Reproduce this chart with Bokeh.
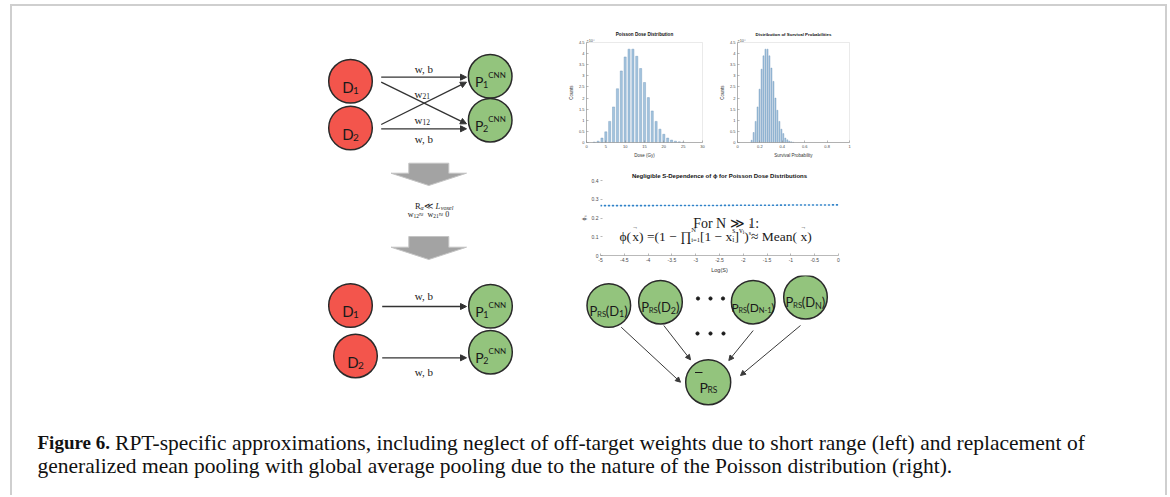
from bokeh.plotting import figure
from bokeh.layouts import row, column
from bokeh.models import Range1d, Arrow, NormalHead, FixedTicker, Title
from bokeh.core.properties import value
from bokeh.embed import file_html
from bokeh.resources import INLINE

# ---------------- chart data ----------------
dose_gy = [2, 3, 4, 5, 6, 7, 8, 9, 10, 11, 12, 13, 14, 15, 16, 17, 18, 19, 20, 21, 22, 23, 24, 25]
dose_counts_1e4 = [0.02, 0.06, 0.2, 0.48, 0.95, 1.6, 2.42, 3.22, 3.85, 4.2, 4.2, 3.88, 3.33, 2.7,
                   2.02, 1.42, 0.95, 0.6, 0.37, 0.2, 0.11, 0.06, 0.03, 0.015]

surv_prob = [0.126, 0.144, 0.162, 0.179, 0.197, 0.215, 0.232, 0.250, 0.268, 0.285, 0.303,
             0.321, 0.339, 0.356, 0.374, 0.392, 0.409, 0.427, 0.445, 0.462, 0.480, 0.498]
surv_counts_1e4 = [0.1, 0.45, 0.95, 1.6, 2.4, 3.3, 3.9, 4.2, 4.2, 3.9, 3.35, 2.75, 2.0, 1.45,
                   0.95, 0.6, 0.4, 0.2, 0.12, 0.06, 0.03, 0.01]

log_s = [-5, -4.5, -4, -3.5, -3, -2.5, -2, -1.5, -1, -0.5, 0]
phi_s = [0.266, 0.266, 0.266, 0.267, 0.267, 0.267, 0.268, 0.268, 0.269, 0.269, 0.27]

dose_ticks = [0, 5, 10, 15, 20, 25, 30]
dose_tick_labels = ["0", "5", "10", "15", "20", "25", "30"]
count_ticks = [0, 0.5, 1, 1.5, 2, 2.5, 3, 3.5, 4, 4.5]
count_tick_labels = ["0", "0.5", "1", "1.5", "2", "2.5", "3", "3.5", "4", "4.5"]
prob_ticks = [0, 0.2, 0.4, 0.6, 0.8, 1]
prob_tick_labels = ["0", "0.2", "0.4", "0.6", "0.8", "1"]
logs_ticks = [-5, -4.5, -4, -3.5, -3, -2.5, -2, -1.5, -1, -0.5, 0]
logs_tick_labels = ["-5", "-4.5", "-4", "-3.5", "-3", "-2.5", "-2", "-1.5", "-1", "-0.5", "0"]
phi_ticks = [0, 0.1, 0.2, 0.3, 0.4]
phi_tick_labels = ["0", "0.1", "0.2", "0.3", "0.4"]

caption_bold = "Figure 6."
caption_line1 = ("RPT-specific approximations, including neglect of off-target weights due to "
                 "short range (left) and replacement of")
caption_line2 = ("generalized mean pooling with global average pooling due to the nature of the "
                 "Poisson distribution (right).")

# ---------------- styles ----------------
SANS = "Lato"
SERIF = "Liberation Serif"
MSANS = "Liberation Sans"
RED = "#F3554C"
GREEN = "#93C47D"
EDGE = "#2a2a2a"
INK = "#1a1a1a"
BAR_FILL = "#a4c4de"
BAR_LINE = "#6a93b8"
AX = "#8a8a8a"

SANS_W = {'P': .58, 'R': .6, 'S': .52, 'D': .72, 'C': .67, 'N': .74, '(': .3, ')': .3,
          '-': .36, '1': .58, '2': .58, '0': .58}
SERIF_W = {'ϕ': .62, '(': .333, ')': .333, 'x': .5, ' ': .25, '=': .564, '1': .5,
           '−': .564, '∏': .82, 'N': .722, 'i': .278, '[': .333, ']': .333, 's': .389,
           'v': .5, '≈': .549, 'M': .889, 'e': .444, 'a': .444, 'n': .5, 'F': .556, 'o': .5,
           'r': .333, '≫': .84, '≪': .84, ':': .278, 'w': .722, ',': .25, 'b': .5, '2': .5,
           'R': .667, 'α': .6, 'L': .611, 'l': .278, '0': .5, '→': 0}
BOLD_W = {'F': .611, 'i': .278, 'g': .5, 'u': .556, 'r': .444, 'e': .444, ' ': .25, '6': .5,
          '.': .25}


def tw(s, size, table):
    return sum(table.get(c, .5) for c in s) * size


def txt(p, x, y, s, size, font=SANS, align="left", baseline="alphabetic", style="normal",
        color=INK):
    p.text(x=[x], y=[y], text=[s], text_font=value(font), text_font_size=f"{size}px",
           text_align=align, text_baseline=baseline, text_font_style=style, text_color=color)


def flow(p, x, y, pieces, font, table, conv=None, center=False, color=INK):
    """pieces: (text, size, dy, style, advance)"""
    if center:
        total = sum(tw(s, sz, table) for s, sz, dy, st, adv in pieces if adv)
        x = x - total / 2
    for s, sz, dy, st, adv in pieces:
        X, Y = x, y + dy
        if conv:
            X, Y = conv(X, Y)
        txt(p, X, Y, s, sz, font, style=st, color=color)
        if adv:
            x += tw(s, sz, table)
    return x


def canvas(w, h, x0, y0):
    p = figure(width=w, height=h, x_range=Range1d(x0, x0 + w), y_range=Range1d(y0 + h, y0),
               output_backend="svg", toolbar_location=None, min_border=0,
               x_axis_location=None, y_axis_location=None)
    p.grid.visible = False
    p.outline_line_color = None
    return p


def arrow(p, x0, y0, x1, y1, size=6, lw=1.3, color="#333333"):
    p.add_layout(Arrow(end=NormalHead(size=size, fill_color=color, line_color=color, line_width=1),
                       x_start=x0, y_start=y0, x_end=x1, y_end=y1,
                       line_color=color, line_width=lw))


def node(p, cx, cy, r, fill):
    p.circle(x=[cx], y=[cy], radius=r, fill_color=fill, line_color=EDGE, line_width=1.5)


def d_label(p, cx, cy, idx):
    flow(p, cx, cy + 5.5, [("D", 15, 0, "normal", True), (idx, 10, 3.5, "normal", True)],
         SANS, SANS_W, center=True)


def p_label(p, cx, cy, idx):
    flow(p, cx, cy + 5, [("P", 14, 0, "normal", True), (idx, 9, 3.5, "normal", True),
                         ("CNN", 8, -6.5, "normal", True)], SANS, SANS_W, center=True)


def style_axes(p, font_px, box=True):
    for ax in p.axis:
        ax.axis_line_color = AX
        ax.axis_line_width = 0.6
        ax.major_tick_line_color = AX
        ax.major_tick_line_width = 0.6
        ax.major_tick_in = 2
        ax.major_tick_out = 0
        ax.minor_tick_line_color = None
        ax.major_label_text_font = MSANS
        ax.major_label_text_font_size = f"{font_px}px"
        ax.major_label_text_color = "#4a4a4a"
        ax.major_label_standoff = 2
        ax.axis_label_text_font = MSANS
        ax.axis_label_text_font_style = "normal"
        ax.axis_label_text_font_size = f"{font_px + 0.5}px"
        ax.axis_label_text_color = "#333333"
        ax.axis_label_standoff = 2
    p.grid.visible = False
    p.outline_line_color = "#dcdcdc" if box else None
    p.outline_line_width = 0.6


def chart_titles(p, title, size, standoff, exp_label=None):
    if exp_label:
        p.add_layout(Title(text=exp_label, align="left", text_font=MSANS,
                           text_font_size="3.8px", text_font_style="normal",
                           text_color="#4a4a4a", standoff=0), "above")
    p.title.text = title
    p.title.align = "center"
    p.title.text_font = MSANS
    p.title.text_font_size = f"{size}px"
    p.title.text_font_style = "bold"
    p.title.text_color = "#111111"
    p.title.standoff = standoff


# ---------------- top-left diagram (canvas in page pixel coordinates) ----------------
tl = canvas(548, 269, 12, 6)

top_nodes = {"D1": (350, 80.8), "D2": (350, 127.5), "P1": (489.7, 75.8), "P2": (489.7, 119.7)}
NR = 21.8

for key, (cx, cy) in top_nodes.items():
    node(tl, cx, cy, NR, RED if key[0] == "D" else GREEN)
    if key[0] == "D":
        d_label(tl, cx, cy, key[1])
    else:
        p_label(tl, cx, cy, key[1])

for (x0, y0, x1, y1) in [(380.7, 76.7, 466, 76.7), (380.7, 81.7, 466, 123.3),
                         (380.7, 124, 466, 81.7), (380.7, 128.3, 466, 128.3)]:
    arrow(tl, x0, y0, x1, y1)

txt(tl, 423.3, 68.3, "w, b", 11, SERIF, align="center", baseline="middle")
flow(tl, 421.7, 93, [("w", 11, 0, "normal", True), ("21", 7.5, 2.5, "normal", True)],
     SERIF, SERIF_W, center=True)
flow(tl, 421.7, 119, [("w", 11, 0, "normal", True), ("12", 7.5, 2.5, "normal", True)],
     SERIF, SERIF_W, center=True)
txt(tl, 423.3, 138.3, "w, b", 11, SERIF, align="center", baseline="middle")

for top, base, apex in [(162.7, 172.7, 185), (236, 246.7, 259)]:
    xs = [408.3, 448.3, 448.3, 466, 428.3, 390.5, 408.3]
    ys = [top, top, base, base, apex, base, base]
    tl.patch(xs, ys, fill_color="#a3a3a3", line_color="#c4c4c4", line_width=1)

flow(tl, 434, 205.5, [("R", 8.5, 0, "normal", True), ("α", 6, 1.5, "italic", True),
                      (" ≪ ", 8.5, 0, "normal", True), ("L", 8.5, 0, "italic", True),
                      ("voxel", 6, 1.5, "italic", True)], SERIF, SERIF_W, center=True)
flow(tl, 429, 213.8, [("w", 8, 0, "normal", True), ("12", 5.5, 1.5, "normal", True),
                      (" ≈ ", 8, 0, "normal", True), ("w", 8, 0, "normal", True),
                      ("21", 5.5, 1.5, "normal", True), (" ≈ 0", 8, 0, "normal", True)],
     SERIF, SERIF_W, center=True)

# ---------------- histogram 1 ----------------
h1 = figure(width=156, height=154, x_range=Range1d(0, 30), y_range=Range1d(0, 4.5),
            output_backend="svg", toolbar_location=None,
            min_border_left=26, min_border_right=14, min_border_top=36, min_border_bottom=17)
h1.vbar(x=dose_gy, top=dose_counts_1e4, width=0.55, fill_color=BAR_FILL, line_color=BAR_LINE,
        line_width=0.4)
style_axes(h1, 4)
h1.xaxis.ticker = FixedTicker(ticks=dose_ticks)
h1.xaxis.major_label_overrides = dict(zip(dose_ticks, dose_tick_labels))
h1.yaxis.ticker = FixedTicker(ticks=count_ticks)
h1.yaxis.major_label_overrides = dict(zip(count_ticks, count_tick_labels))
h1.xaxis.axis_label = "Dose (Gy)"
h1.yaxis.axis_label = "Counts"
chart_titles(h1, "Poisson Dose Distribution", 4.6, 0, "×10⁴")

# ---------------- histogram 2 ----------------
h2 = figure(width=146, height=154, x_range=Range1d(0, 1), y_range=Range1d(0, 4.5),
            output_backend="svg", toolbar_location=None,
            min_border_left=16, min_border_right=13, min_border_top=36, min_border_bottom=17)
h2.vbar(x=surv_prob, top=surv_counts_1e4, width=0.0095, fill_color=BAR_FILL,
        line_color=BAR_LINE, line_width=0.4)
style_axes(h2, 4)
h2.xaxis.ticker = FixedTicker(ticks=prob_ticks)
h2.xaxis.major_label_overrides = dict(zip(prob_ticks, prob_tick_labels))
h2.yaxis.ticker = FixedTicker(ticks=count_ticks)
h2.yaxis.major_label_overrides = dict(zip(count_ticks, count_tick_labels))
h2.xaxis.axis_label = "Survival Probability"
h2.yaxis.axis_label = "Counts"
chart_titles(h2, "Distribution of Survival Probabilities", 4.4, 0, "×10⁴")

# ---------------- line chart ----------------
lc = figure(width=302, height=115, x_range=Range1d(-5, 0), y_range=Range1d(0, 0.4),
            output_backend="svg", toolbar_location=None,
            min_border_left=40, min_border_right=24, min_border_top=20, min_border_bottom=20)
lc.line(log_s, phi_s, line_color="#2f82c8", line_width=1.6, line_dash="1 3", line_cap="round")
style_axes(lc, 5, box=False)
lc.xaxis.ticker = FixedTicker(ticks=logs_ticks)
lc.xaxis.major_label_overrides = dict(zip(logs_ticks, logs_tick_labels))
lc.yaxis.ticker = FixedTicker(ticks=phi_ticks)
lc.yaxis.major_label_overrides = dict(zip(phi_ticks, phi_tick_labels))
lc.yaxis.axis_line_color = None
lc.xaxis.axis_label = "Log(S)"
lc.yaxis.axis_label = "ϕₛ"
chart_titles(lc, "Negligible S-Dependence of ϕ for Poisson Dose Distributions", 6, 3)


def lc_conv(X, Y):
    return -5 + (X - 600) / 238 * 5, (255 - Y) / 75 * 0.4


FS = 13.5
flow(lc, 724, 223.3, [("For N ≫ 1:", 14, 0, "normal", True)], SERIF, SERIF_W, conv=lc_conv,
     center=True)
flow(lc, 619, 236, [
    ("ϕ(", FS, 0, "normal", True),
    ("→", 6, -10, "normal", False),
    ("x", FS, 0, "normal", True),
    (") =(1 − ∏", FS, 0, "normal", True),
    ("N", 6.5, -7, "normal", False),
    ("i=1", 6.5, 3, "normal", True),
    ("[1 − x", FS, 0, "normal", True),
    ("s", 7.5, -6.5, "normal", False),
    ("i", 7.5, 3, "normal", True),
    ("]", FS, 0, "normal", True),
    ("v", 7.5, -6.5, "normal", True),
    ("i", 5.5, -5, "normal", True),
    (")", FS, 0, "normal", True),
    ("1", 6, -10.5, "normal", False),
    ("s", 6, -3.5, "normal", True),
    (" ≈ Mean(", FS, 0, "normal", True),
    ("→", 6, -10, "normal", False),
    ("x", FS, 0, "normal", True),
    (")", FS, 0, "normal", True),
], SERIF, SERIF_W, conv=lc_conv)

# ---------------- bottom canvas: bottom-left diagram, pooling diagram, caption ----------------
bc = canvas(1153, 220, 12, 275)

bot_nodes = {"D1": (350, 305), "D2": (355, 355.5), "P1": (490, 305.8), "P2": (490, 351.7)}
for key, (cx, cy) in bot_nodes.items():
    node(bc, cx, cy, NR, RED if key[0] == "D" else GREEN)
    if key[0] == "D":
        d_label(bc, cx, cy, key[1])
    else:
        p_label(bc, cx, cy, key[1])
for (x0, y0, x1, y1) in [(381.7, 306, 466, 306), (381.7, 357.3, 466, 357.3)]:
    arrow(bc, x0, y0, x1, y1)
txt(bc, 423.3, 295, "w, b", 11, SERIF, align="center", baseline="middle")
txt(bc, 423.3, 371.7, "w, b", 11, SERIF, align="center", baseline="middle")

pool_nodes = [(608.3, 305, "1", 13, 9), (660, 301.7, "2", 13, 9), (752.7, 301.7, "N-1", 12, 7.5),
              (805, 296.7, "N", 13, 9)]
pool_arrows = [(620.7, 326.7, 680, 381.7), (663.3, 325, 690, 359.3), (752.7, 330, 728.3, 360),
               (800, 325, 740, 375)]
for (x0, y0, x1, y1) in pool_arrows:
    arrow(bc, x0, y0, x1, y1, size=5, lw=1, color="#3a3a3a")
for cx, cy, idx, fs, ss in pool_nodes:
    node(bc, cx, cy, 21.8, GREEN)
    flow(bc, cx, cy + 5, [("P", fs, 0, "normal", True), ("RS", fs * 0.6, 3, "normal", True),
                          ("(D", fs, 0, "normal", True), (idx, ss, 3, "normal", True),
                          (")", fs, 0, "normal", True)], SANS, SANS_W, center=True)
node(bc, 707.7, 381.7, 22.5, GREEN)
flow(bc, 707.7, 386.5, [("P", 14, 0, "normal", True), ("RS", 8.5, 2.5, "normal", True)],
     SANS, SANS_W, center=True)
bc.segment(x0=[694.5], y0=[372], x1=[702], y1=[372], line_color=INK, line_width=1)
bc.scatter(x=[697.5, 710, 722.5, 697, 710, 723], y=[298, 298, 298, 333, 333, 333], size=3.2,
           fill_color=INK, line_color=INK)

CAP_BOLD = 19
CAP_SIZE = 21.5
txt(bc, 37, 442, caption_bold, CAP_BOLD, SERIF, style="bold", color="#111111")
txt(bc, 37 + tw(caption_bold + " ", CAP_BOLD, BOLD_W), 442, caption_line1, CAP_SIZE, SERIF,
    color="#111111")
txt(bc, 37, 465, caption_line2, CAP_SIZE, SERIF, color="#111111")

# ---------------- layout ----------------
right_col = column(row(h1, h2, spacing=0), lc, spacing=0)
top_row = row(tl, right_col, spacing=0)
page = column(top_row, bc, spacing=0,
              styles={"margin-left": "10px", "margin-top": "4px",
                      "border-left": "2px solid #cfcfcf", "border-top": "2px solid #cfcfcf",
                      "border-right": "2px solid #cfcfcf"})

open("out.html", "w").write(file_html(page, INLINE))
